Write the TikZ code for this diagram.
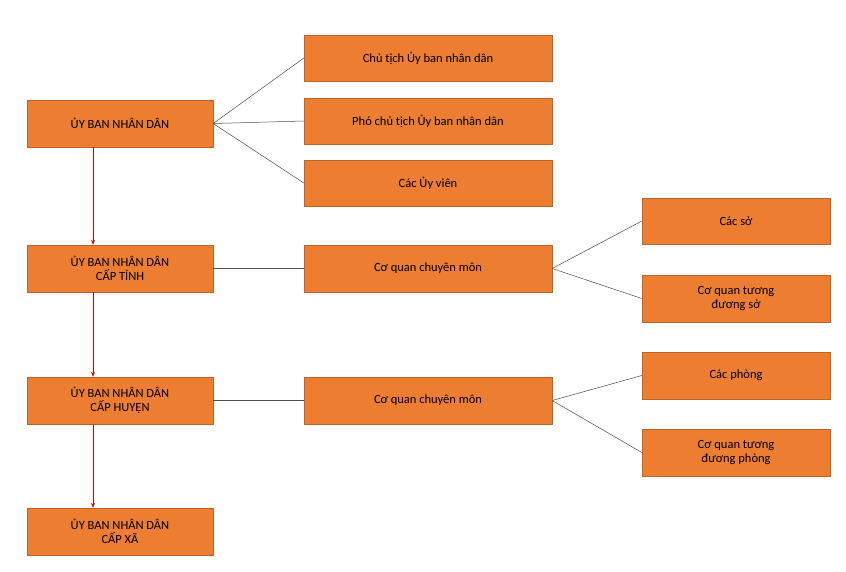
\documentclass[tikz,border=0pt]{standalone}
\usepackage{fontspec}
\setmainfont{Carlito}
\usetikzlibrary{arrows.meta}
\definecolor{org}{HTML}{ED7D31}
\begin{document}
\begin{tikzpicture}[x=1pt,y=-1pt,
  box/.style={fill=org,draw=org!80!black,line width=0.4pt,align=center,font=\fontsize{12.5}{14}\selectfont,inner sep=0pt},
  ln/.style={draw=black!70,line width=0.5pt},
  ar/.style={draw=red!85!black,line width=0.8pt,-{Stealth[length=5pt,width=4pt]}}]
\useasboundingbox[fill=white] (0,0) rectangle (846,571);
\newcommand{\bx}[6]{\node[box,minimum width=#4-#2,minimum height=#5-#3] (#1) at ({(#2+#4)/2},{(#3+#5)/2}) {#6};}
\bx{a}{27}{100}{213}{147}{ỦY BAN NHÂN DÂN}
\bx{b}{27}{245}{213}{292}{ỦY BAN NHÂN DÂN\\CẤP TỈNH}
\bx{c}{27}{377}{213}{424}{ỦY BAN NHÂN DÂN\\CẤP HUYỆN}
\bx{d}{27}{508}{213}{555}{ỦY BAN NHÂN DÂN\\CẤP XÃ}
\bx{r1}{304}{35}{552}{81}{Chủ tịch Ủy ban nhân dân}
\bx{r2}{304}{98}{552}{144}{Phó chủ tịch Ủy ban nhân dân}
\bx{r3}{304}{160}{552}{206}{Các Ủy viên}
\bx{q1}{304}{245}{552}{292}{Cơ quan chuyên môn}
\bx{q2}{304}{377}{552}{424}{Cơ quan chuyên môn}
\bx{s1}{642}{198}{830}{244}{Các sở}
\bx{s2}{642}{275}{830}{322}{Cơ quan tương\\đương sở}
\bx{p1}{642}{352}{830}{399}{Các phòng}
\bx{p2}{642}{429}{830}{476}{Cơ quan tương\\đương phòng}
\foreach \t in {r1,r2,r3} \draw[ln] (a.east) -- (\t.west);
\draw[ln] (b.east) -- (q1.west);
\draw[ln] (c.east) -- (q2.west);
\foreach \t in {s1,s2} \draw[ln] (q1.east) -- (\t.west);
\foreach \t in {p1,p2} \draw[ln] (q2.east) -- (\t.west);
\draw[ar] ([xshift=-27pt]a.south) -- ([xshift=-27pt]b.north);
\draw[ar] ([xshift=-27pt]b.south) -- ([xshift=-27pt]c.north);
\draw[ar] ([xshift=-27pt]c.south) -- ([xshift=-27pt]d.north);
\end{tikzpicture}
\end{document}
